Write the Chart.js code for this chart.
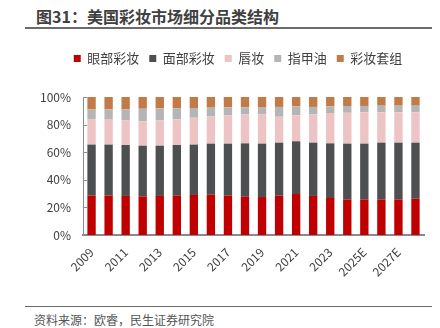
<!DOCTYPE html>
<html>
<head>
<meta charset="utf-8">
<script src="https://cdn.jsdelivr.net/npm/chart.js@4/dist/chart.umd.min.js"></script>
<style>
  html, body { margin: 0; padding: 0; background: #fff; }
  body { width: 440px; height: 328px; position: relative; overflow: hidden;
         font-family: "Noto Sans CJK SC", "Noto Sans", sans-serif; }
  #title { position: absolute; left: 25px; top: 6px; width: 396px; height: 21px;
           border-bottom: 2px solid #6b6b6b; font-weight: bold; font-size: 16px;
           line-height: 21px; color: #404040; padding-left: 11px; }
  #wrap { position: absolute; left: 0; top: 42px; width: 440px; height: 239px; }
  #foot { position: absolute; left: 25px; top: 306px; width: 407px;
          border-top: 1.5px solid #6b6b6b; }
  #foot span { position: absolute; left: 9px; top: 5px; font-size: 12px; color: #555;
               white-space: nowrap; line-height: 16px; }
</style>
</head>
<body>
<div id="title">图31：美国彩妆市场细分品类结构</div>
<div id="wrap"><canvas id="c"></canvas></div>
<div id="foot"><span>资料来源：欧睿，民生证券研究院</span></div>
<script>
// Years (2025E onward are forecasts)
const years = ['2009','2010','2011','2012','2013','2014','2015','2016','2017','2018',
               '2019','2020','2021','2022','2023','2024','2025E','2026E','2027E','2028E'];
// Share of US colour-cosmetics market by sub-category, %
const eyeMakeup  = [28.5,28.5,28.3,28.0,28.3,28.7,29.0,29.2,28.5,28.0,27.5,28.5,29.7,28.3,26.8,25.8,25.8,25.8,25.8,26.3];
const faceMakeup = [37.0,37.0,36.9,36.7,36.4,36.5,36.5,37.0,37.7,38.4,38.7,38.4,38.2,38.6,39.6,40.4,40.4,41.1,41.1,40.6];
const lipMakeup  = [18.5,18.1,17.8,17.7,18.3,18.6,19.5,19.8,20.5,21.0,21.2,18.8,18.8,20.5,22.0,22.4,22.7,22.0,22.0,22.0];
const nailPolish = [7.0,7.4,8.0,9.1,8.8,8.0,7.0,6.3,5.8,5.1,4.9,7.1,6.5,5.4,4.8,4.9,4.6,4.8,4.8,4.8];
const makeupKits = [9.0,9.0,9.0,8.5,8.2,8.2,8.0,7.7,7.5,7.5,7.7,7.2,6.8,7.2,6.8,6.5,6.5,6.3,6.3,6.3];
const yTicks = [0, 20, 40, 60, 80, 100];

const seriesNames = ['眼部彩妆','面部彩妆','唇妆','指甲油','彩妆套组'];
const seriesData = [eyeMakeup, faceMakeup, lipMakeup, nailPolish, makeupKits];
const seriesColors = ['#C00000','#4D4F50','#EDC3C3','#B5B5B5','#C27B46'];

const FONT = '"Noto Sans CJK SC", "Noto Sans", sans-serif';

// extra space under the legend, and a small rightward offset for it
const legendGap = {
  id: 'legendGap',
  beforeInit(chart) {
    const origFit = chart.legend.fit;
    chart.legend.fit = function () {
      origFit.bind(chart.legend)();
      this.height += 22;
    };
  },
  afterLayout(chart) {
    chart.legend.left += 12;
    chart.legend.right += 12;
  }
};

// short inward tick marks on the value axis
const innerTicks = {
  id: 'innerTicks',
  afterDatasetsDraw(chart) {
    const y = chart.scales.y, ctx = chart.ctx;
    const x0 = chart.chartArea.left;
    ctx.save();
    ctx.strokeStyle = '#8c8c8c';
    ctx.lineWidth = 1;
    y.ticks.forEach((t, i) => {
      const py = Math.round(y.getPixelForTick(i)) + 0.5;
      ctx.beginPath();
      ctx.moveTo(x0, py);
      ctx.lineTo(x0 + 4, py);
      ctx.stroke();
    });
    ctx.restore();
  }
};

new Chart(document.getElementById('c'), {
  type: 'bar',
  data: {
    labels: years,
    datasets: seriesNames.map((n, i) => ({
      label: n,
      data: seriesData[i],
      backgroundColor: seriesColors[i],
      borderWidth: 0,
      barPercentage: 0.49,
      categoryPercentage: 1.0
    }))
  },
  options: {
    responsive: true,
    maintainAspectRatio: false,
    animation: false,
    layout: { padding: { left: 28, right: 16, top: 0, bottom: 0 } },
    plugins: {
      legend: {
        position: 'top',
        labels: {
          boxWidth: 7, boxHeight: 7, padding: 10,
          color: '#404040',
          font: { family: FONT, size: 13 }
        }
      },
      tooltip: { enabled: false }
    },
    scales: {
      x: {
        stacked: true,
        grid: { display: false },
        border: { display: true, color: '#8a8a8a', width: 2 },
        ticks: {
          autoSkip: false,
          maxRotation: 45, minRotation: 45,
          padding: 2,
          color: '#404040',
          font: { family: FONT, size: 12 },
          callback: function (v, i) { return i % 2 === 0 ? this.getLabelForValue(v) : ''; }
        }
      },
      y: {
        stacked: true,
        min: 0, max: 100,
        afterBuildTicks: (s) => { s.ticks = yTicks.map(v => ({ value: v })); },
        grid: { display: false, drawTicks: false },
        border: { display: true, color: '#8c8c8c', width: 1 },
        ticks: {
          padding: 12,
          color: '#404040',
          font: { family: FONT, size: 12 },
          callback: (v) => v + '%'
        }
      }
    }
  },
  plugins: [legendGap, innerTicks]
});
</script>
</body>
</html>
